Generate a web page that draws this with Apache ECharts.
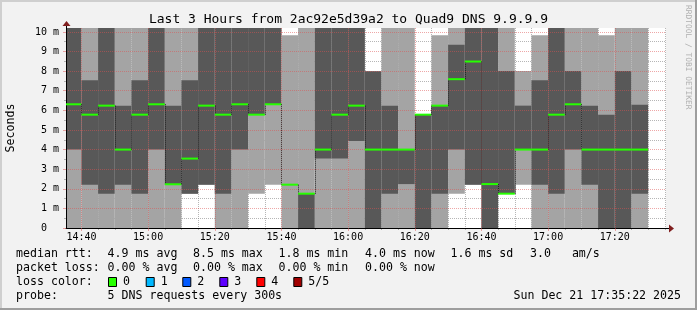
<!DOCTYPE html>
<html><head><meta charset="utf-8">
<script src="https://cdn.jsdelivr.net/npm/echarts@6/dist/echarts.min.js"></script>
<style>html,body{margin:0;padding:0;background:#f2f2f2;}#c{width:697px;height:310px;}</style>
</head><body><div id="c"></div>
<script>
// ---- data (milliseconds) ----
const slotBounds = ['14:35:22','14:40','14:45','14:50','14:55','15:00','15:05','15:10','15:15','15:20','15:25','15:30','15:35','15:40','15:45','15:50','15:55','16:00','16:05','16:10','16:15','16:20','16:25','16:30','16:35','16:40','16:45','16:50','16:55','17:00','17:05','17:10','17:15','17:20','17:25','17:30'];
const pingMin  = [0,0,0,0,0,0,0,1.75,2.21,0,0,1.75,2.21,0,0,0,0,0,0,0,0,0,0,1.75,2.21,0,1.75,2.21,0,0,0,0,0,0,0];
const pingLow  = [4.00,2.21,1.75,2.21,1.75,4.00,2.21,1.75,2.21,1.75,4.00,5.78,6.31,2.19,0,3.54,3.54,4.44,0,1.75,2.24,0,1.75,4.00,2.21,0,1.75,4.00,2.21,1.75,4.00,2.21,0,0,1.75];
const median   = [6.31,5.78,6.24,4.00,5.78,6.31,2.23,3.54,6.24,5.78,6.31,5.78,6.31,2.21,1.75,4.00,5.78,6.24,4.00,4.00,4.00,5.78,6.24,7.59,8.49,2.24,1.75,4.00,4.00,5.78,6.31,4.00,4.00,4.00,4.00];
const pingHigh = [10.6,7.53,10.6,6.24,7.53,10.6,6.24,7.53,10.6,10.6,10.6,10.6,10.6,2.23,1.77,10.6,10.6,10.6,8.00,6.24,4.01,5.78,6.24,9.35,10.6,10.6,8.01,6.24,7.53,10.6,8.01,6.24,5.78,8.01,6.29];
const pingMax  = [10.6,10.6,10.6,10.6,10.6,10.6,10.6,10.6,10.6,10.6,10.6,10.6,10.6,9.83,10.6,10.6,10.6,10.6,8.01,10.6,10.6,5.79,9.83,10.6,10.6,10.6,10.6,8.01,9.83,10.6,10.6,10.6,9.83,10.6,10.6];
const xMajorTicks = ['14:40','15:00','15:20','15:40','16:00','16:20','16:40','17:00','17:20'];
const xMinorTicks = ['14:45','14:50','14:55','15:05','15:10','15:15','15:25','15:30','15:35','15:45','15:50','15:55','16:05','16:10','16:15','16:25','16:30','16:35','16:45','16:50','16:55','17:05','17:10','17:15','17:25','17:30','17:35'];
const yMajorTicks = [0,1,2,3,4,5,6,7,8,9,10];
const yMinorTicks = [0.5,1.5,2.5,3.5,4.5,5.5,6.5,7.5,8.5,9.5];
const axisStart = '14:35:22', axisEnd = '17:35:22';
const Y_MAX = 10.2;

const toMin = s => { const p = s.split(':').map(Number); return p[0]*60 + p[1] + (p[2]||0)/60; };
const toHM = v => { const h = Math.floor(v/60), m = Math.round(v - h*60); return (h<10?'0':'')+h+':'+(m<10?'0':'')+m; };

const rows = median.map((m, i) => [i, toMin(slotBounds[i]), toMin(slotBounds[i+1]), pingMin[i], pingLow[i], m, pingHigh[i], pingMax[i]]);

const LIGHT = '#a4a4a4', DARK = '#585858', GREEN = '#26ff00';
const MONO = '"DejaVu Sans Mono", monospace';
const GRID_C = 'rgba(143,143,143,0.65)', MGRID_C = 'rgba(222,79,79,0.5)';

function smoke(params, api) {
  const t0 = api.value(1), t1 = api.value(2);
  const xs = api.coord([t0, 0])[0], xe = api.coord([t1, 0])[0];
  const c = v => api.coord([t0, Math.min(v, Y_MAX)])[1];
  const r = (a, b, col) => ({type:'rect', shape:{x:xs, y:c(b), width:xe-xs, height:c(a)-c(b)}, style:{fill:col}});
  return {type:'group', children:[r(api.value(3), api.value(7), LIGHT), r(api.value(4), api.value(6), DARK)]};
}
function med(params, api) {
  const i = api.value(0), t0 = api.value(1), t1 = api.value(2), m = api.value(5);
  const xs = api.coord([t0, m])[0], xe = api.coord([t1, m])[0], y = api.coord([t0, m])[1];
  const ch = [];
  if (i > 0) {
    const yp = api.coord([t0, median[i-1]])[1];
    ch.push({type:'line', shape:{x1:Math.round(xs)+0.5, y1:yp, x2:Math.round(xs)+0.5, y2:y}, style:{stroke:'#202020', lineWidth:1, lineDash:[1,1]}});
  }
  ch.push({type:'rect', shape:{x:xs, y:y-1, width:xe-xs, height:2}, style:{fill:GREEN}});
  return {type:'group', children:ch};
}

const chart = echarts.init(document.getElementById('c'), null, {renderer:'canvas'});
const tMin = toMin(axisStart), tMax = toMin(axisEnd);

const legendY = [254.3, 268.3, 282.3, 296];
const txt = (s, x, y, align) => ({type:'text', x:x, y:y, style:{text:s, font:'11.6px '+MONO, fill:'#000', textAlign:align||'left', textVerticalAlign:'middle', verticalAlign:'middle'}});
const lossColors = ['#26ff00','#00b8ff','#0059ff','#5e00ff','#ff0000','#a10000'];
const lossLabels = ['0','1','2','3','4','5/5'];
const lossBoxX = [108, 145.7, 182.3, 219.3, 256.3, 293.3];

const graphics = [
  {type:'rect', shape:{x:0,y:0,width:697,height:2}, style:{fill:'#cfcfcf'}},
  {type:'rect', shape:{x:0,y:0,width:2,height:310}, style:{fill:'#cfcfcf'}},
  {type:'rect', shape:{x:0,y:308,width:697,height:2}, style:{fill:'#9e9e9e'}},
  {type:'rect', shape:{x:695,y:0,width:2,height:310}, style:{fill:'#9e9e9e'}},
  {type:'text', x:688.5, y:5, rotation:-Math.PI/2, style:{text:'RRDTOOL / TOBI OETIKER', font:'7.9px '+MONO, fill:'#b0b0b0', textAlign:'left', textVerticalAlign:'middle', verticalAlign:'middle'}},
  {type:'line', shape:{x1:66.5,y1:28,x2:66.5,y2:24}, style:{stroke:'#000',lineWidth:1}},
  {type:'polygon', shape:{points:[[62.5,26],[70.5,26],[66.5,21]]}, style:{fill:'#801f1f'}},
  {type:'line', shape:{x1:666,y1:228.5,x2:670,y2:228.5}, style:{stroke:'#000',lineWidth:1}},
  {type:'polygon', shape:{points:[[669,224.5],[669,232.5],[674,228.5]]}, style:{fill:'#801f1f'}},
  txt('median rtt:', 16, legendY[0]),
  txt('4.9 ms avg', 107.6, legendY[0]),
  txt('8.5 ms max', 193, legendY[0]),
  txt('1.8 ms min', 278.5, legendY[0]),
  txt('4.0 ms now', 365, legendY[0]),
  txt('1.6 ms sd', 450.5, legendY[0]),
  txt('3.0   am/s', 530, legendY[0]),
  txt('packet loss:', 16, legendY[1]),
  txt('0.00 % avg', 107.6, legendY[1]),
  txt('0.00 % max', 193, legendY[1]),
  txt('0.00 % min', 278.5, legendY[1]),
  txt('0.00 % now', 365, legendY[1]),
  txt('loss color:', 16, legendY[2]),
  txt('probe:', 16, legendY[3]),
  txt('5 DNS requests every 300s', 107.6, legendY[3]),
  txt('Sun Dec 21 17:35:22 2025', 681, legendY[3], 'right')
];
lossLabels.forEach((l, k) => {
  graphics.push({type:'rect', shape:{x:lossBoxX[k]+0.5, y:277.5, width:8, height:9}, style:{fill:lossColors[k], stroke:'#000', lineWidth:1}});
  graphics.push(txt(l, lossBoxX[k]+15, legendY[2]));
});

chart.setOption({
  backgroundColor:'#f2f2f2',
  animation:false,
  title:{text:'Last 3 Hours from 2ac92e5d39a2 to Quad9 DNS 9.9.9.9', left:'center', top:13, padding:0,
    textStyle:{fontFamily:MONO, fontSize:13, fontWeight:'normal', color:'#000'}},
  grid:{left:66, right:31, top:28, bottom:82, show:true, backgroundColor:'#ffffff', borderWidth:0, containLabel:false, outerBoundsMode:'none'},
  xAxis:[
    {type:'value', min:tMin, max:tMax, position:'bottom', z:2,
     axisLine:{show:true, lineStyle:{color:'#000', width:1}},
     axisTick:{show:true, customValues:xMajorTicks.map(toMin), length:3, lineStyle:{color:MGRID_C}},
     axisLabel:{show:true, customValues:xMajorTicks.map(toMin), formatter:toHM, color:'#000', fontFamily:MONO, fontSize:10, margin:4},
     splitLine:{show:true, lineStyle:{color:MGRID_C, type:[1,1], width:1}}},
    {type:'value', min:tMin, max:tMax, position:'bottom', z:1,
     axisLine:{show:false},
     axisTick:{show:true, customValues:xMinorTicks.map(toMin), length:2, lineStyle:{color:GRID_C}},
     axisLabel:{show:false},
     splitLine:{show:true, lineStyle:{color:GRID_C, type:[1,1], width:1}}}
  ],
  yAxis:[
    {type:'value', min:0, max:Y_MAX, position:'left', z:2,
     name:'Seconds', nameLocation:'middle', nameRotate:90, nameGap:49.5,
     nameTextStyle:{fontFamily:MONO, fontSize:11.6, color:'#000'},
     axisLine:{show:true, lineStyle:{color:'#000', width:1}},
     axisTick:{show:true, customValues:yMajorTicks, length:3, lineStyle:{color:MGRID_C}},
     axisLabel:{show:true, customValues:yMajorTicks, formatter:v => v === 0 ? '0  ' : v + ' m', color:'#000', fontFamily:MONO, fontSize:10, margin:7},
     splitLine:{show:true, lineStyle:{color:MGRID_C, type:[1,1], width:1}}},
    {type:'value', min:0, max:Y_MAX, position:'left', z:1,
     axisLine:{show:false},
     axisTick:{show:true, customValues:yMinorTicks, length:2, lineStyle:{color:GRID_C}},
     axisLabel:{show:false},
     splitLine:{show:true, lineStyle:{color:GRID_C, type:[1,1], width:1}}}
  ],
  series:[
    {type:'custom', name:'smoke', z:1, xAxisIndex:0, yAxisIndex:0, renderItem:smoke, data:rows, encode:{x:[1,2], y:[3,4,5,6,7]}, silent:true},
    {type:'custom', name:'median', z:3, xAxisIndex:0, yAxisIndex:0, renderItem:med, data:rows, encode:{x:[1,2], y:[5]}, silent:true}
  ],
  graphic:graphics
});
</script></body></html>
